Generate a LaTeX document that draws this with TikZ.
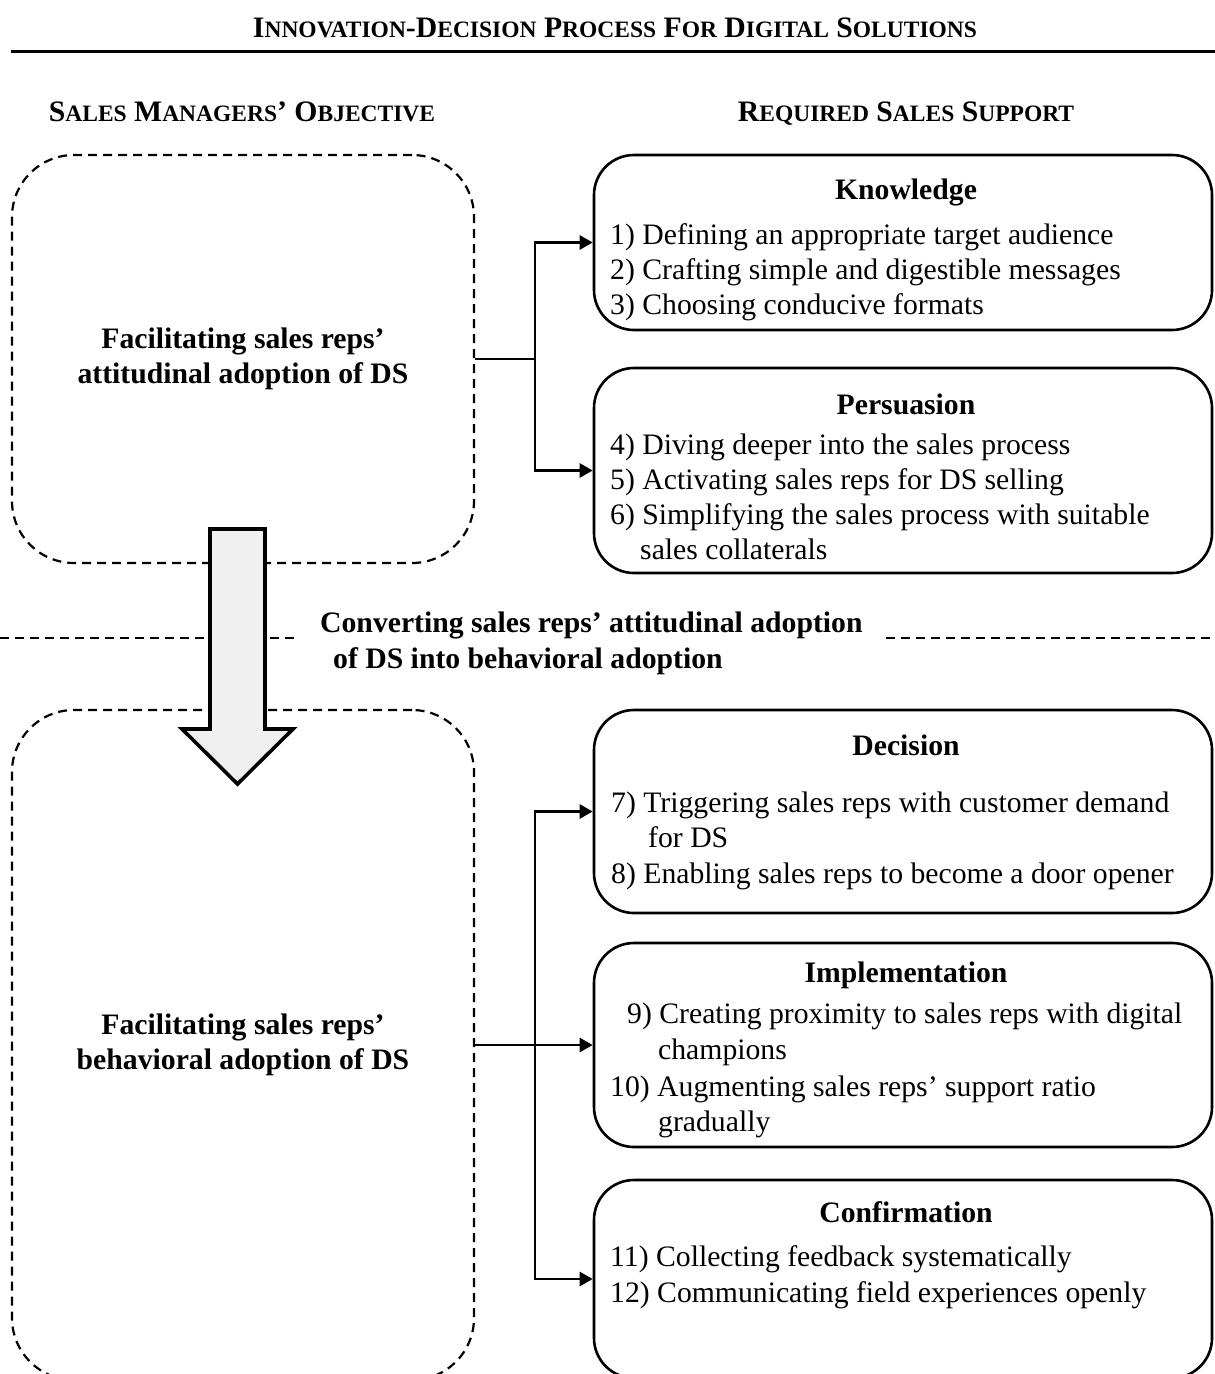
\documentclass[tikz,border=0pt]{standalone}
\usepackage{fontspec}
\setmainfont{Liberation Serif}
\usetikzlibrary{arrows.meta}

% faked small capitals: first letter large, rest smaller
\newcommand\scw[2]{#1{\fontsize{23.5}{23.5}\selectfont #2}}
\definecolor{arrowfill}{RGB}{240,240,240}

\begin{document}
\begin{tikzpicture}[x=1pt,y=-1pt,
  every node/.style={inner sep=0pt, font=\fontsize{29.7}{35}\selectfont},
  caphead/.style={font=\fontsize{29.7}{29.7}\selectfont\bfseries, anchor=base},
  objbox/.style={draw, line width=2.2pt, dash pattern=on 9pt off 6pt,
                 rounded corners=62pt, align=center,
                 font=\fontsize{29.7}{35}\selectfont\bfseries},
  stagebox/.style={draw, line width=2.6pt, rounded corners=40pt,
                   minimum width=618pt},
  stagetitle/.style={font=\fontsize{29.7}{35}\selectfont\bfseries, anchor=base},
  item/.style={anchor=base west},
  conn/.style={line width=2.6pt},
  tip/.style={conn, -{Triangle[length=13pt,width=14pt]}},
  divider/.style={line width=2.2pt, dash pattern=on 9pt off 6pt},
]
\useasboundingbox (0,0) rectangle (1215,1374);
\clip (0,0) rectangle (1215,1374);

% heading and rule
\node[caphead] (title) at (615,37)
  {\scw{I}{NNOVATION}-\scw{D}{ECISION} \scw{P}{ROCESS} \scw{F}{OR} \scw{D}{IGITAL} \scw{S}{OLUTIONS}};
\draw[line width=3pt] (11,51) -- (1215,51);
\node[caphead] (lefthead) at (242,121)
  {\scw{S}{ALES} \scw{M}{ANAGERS}’ \scw{O}{BJECTIVE}};
\node[caphead] (righthead) at (906,121)
  {\scw{R}{EQUIRED} \scw{S}{ALES} \scw{S}{UPPORT}};

% dividing line between the two phases
\node[anchor=west, align=left, font=\fontsize{29.7}{36}\selectfont\bfseries] (conv) at (320,643)
  {Converting sales reps’ attitudinal adoption\\\hspace*{13pt}of DS into behavioral adoption};
\draw[divider] (0,638) -- (298,638);
\draw[divider] (886,638) -- (1215,638);

% objectives
\node[objbox, minimum width=462pt, minimum height=408pt] (obj1) at (243,359)
  {Facilitating sales reps’\\attitudinal adoption of DS};
\node[objbox, minimum width=462pt, minimum height=670pt] (obj2) at (243,1045)
  {Facilitating sales reps’\\behavioral adoption of DS};

% stages of required support
\node[stagebox, minimum height=175pt] (know) at (903,242.5) {};
\node[stagetitle] (knowt) at (906,199) {Knowledge};
\node[item] (k1) at (610,244) {1) Defining an appropriate target audience};
\node[item] (k2) at (610,279) {2) Crafting simple and digestible messages};
\node[item] (k3) at (610,314) {3) Choosing conducive formats};

\node[stagebox, minimum height=205pt] (pers) at (903,470.5) {};
\node[stagetitle] (perst) at (906,414) {Persuasion};
\node[item] (p1) at (610,454) {4) Diving deeper into the sales process};
\node[item] (p2) at (610,489) {5) Activating sales reps for DS selling};
\node[item] (p3) at (610,524) {6) Simplifying the sales process with suitable};
\node[item] (p4) at (640,559) {sales collaterals};

\node[stagebox, minimum height=203pt] (deci) at (903,811.5) {};
\node[stagetitle] (decit) at (906,755) {Decision};
\node[item] (d1) at (611,812) {7) Triggering sales reps with customer demand};
\node[item] (d2) at (648,847) {for DS};
\node[item] (d3) at (611,883) {8) Enabling sales reps to become a door opener};

\node[stagebox, minimum height=204pt] (impl) at (903,1045) {};
\node[stagetitle] (implt) at (906,982) {Implementation};
\node[item] (i1) at (627,1023) {9) Creating proximity to sales reps with digital};
\node[item] (i2) at (658,1059) {champions};
\node[item] (i3) at (610,1096) {10) Augmenting sales reps’ support ratio};
\node[item] (i4) at (658,1131) {gradually};

\node[stagebox, minimum height=198pt] (conf) at (903,1279) {};
\node[stagetitle] (conft) at (906,1222) {Confirmation};
\node[item] (c1) at (610,1266) {11) Collecting feedback systematically};
\node[item] (c2) at (610,1302) {12) Communicating field experiences openly};

% connectors from objectives to stages
\draw[conn] (obj1.east) -- ++(60,0) coordinate (split1);
\draw[tip] (split1) |- (know.west);
\draw[tip] (split1) |- (pers.west);

\draw[conn] (obj2.east) -- ++(60,0) coordinate (split2);
\draw[tip] (split2) |- (deci.west);
\draw[tip] (split2) -- (impl.west);
\draw[tip] (split2) |- (conf.west);

% block arrow from the first objective to the second
\draw[line width=3.6pt, fill=arrowfill, miter limit=10]
  (210,529) -- (265,529) -- (265,729) -- (293,729) -- (237.5,784)
  -- (182,729) -- (210,729) -- cycle;
\end{tikzpicture}
\end{document}
